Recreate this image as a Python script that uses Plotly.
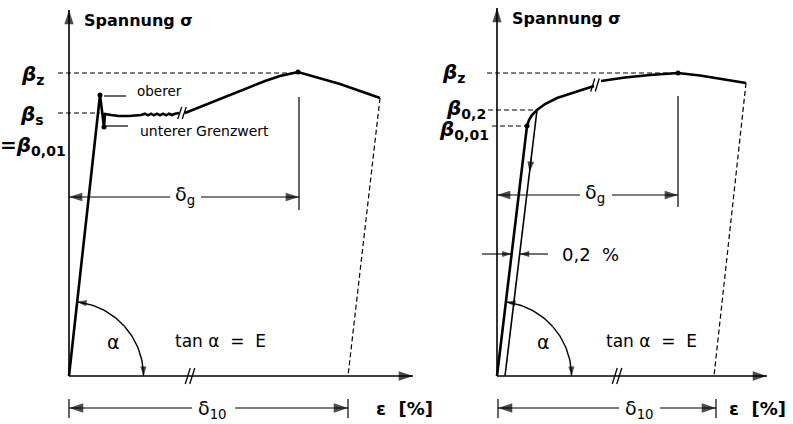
import numpy as np
import plotly.graph_objects as go

# Schematic stress-strain diagrams (Spannungs-Dehnungs-Linien).
# Strain eps and stress sig are in schematic units, one shared scale for both.

# ---------- left: steel with a distinct yield point ----------
L_yield_eps = [0, 31, 35, 36, 42, 50, 60, 72, 76, 79, 82, 85, 88, 91, 94, 97, 100, 103, 106, 110]
L_yield_sig = [0, 281, 249, 262, 261, 260, 260, 261, 262.3, 260.7, 262.3, 260.7, 262.3,
               260.7, 262.3, 260.7, 262.3, 261, 262.3, 263]
L_harden_eps = [116, 161, 196, 211, 221, 229, 271, 311]
L_harden_sig = [263, 281, 295, 300, 302.5, 304, 292, 278]
L_fracture_eps = [311, 279]
L_fracture_sig = [278, 0]
L_upper = (31, 281)          # oberer Grenzwert
L_lower = (35, 249)          # unterer Grenzwert
L_peak = (229, 304)          # beta_z
L_beta_z = 303
L_beta_s = 263
L_break_eps = 113            # break marker on the curve
L_delta_g = 230
L_delta_10 = 279

# ---------- right: steel without a distinct yield point ----------
R_curve1_eps = [0, 30, 32, 35, 40, 48, 60, 78, 97]
R_curve1_sig = [0, 250, 256, 261, 266, 272, 278, 284, 290]
R_curve2_eps = [104, 128, 153, 181, 203, 220, 249]
R_curve2_sig = [295, 298.5, 301, 303, 300.5, 298, 293]
R_offset_eps = [8, 40]       # parallel line shifted by 0.2 %
R_offset_sig = [0, 266]
R_fracture_eps = [249, 217]
R_fracture_sig = [293, 0]
R_p001 = (30, 250)           # beta_0,01
R_p02 = (40, 266)            # beta_0,2
R_peak = (181, 303)          # beta_z
R_break_eps = 98
R_delta_g = 181
R_delta_10 = 219

BLACK = "black"
FONT = "DejaVu Sans"

fig = go.Figure()


def line(xs, ys, ax, width=1.0, dash=None):
    fig.add_trace(go.Scatter(
        x=list(xs), y=list(ys), xaxis=ax, yaxis="y", mode="lines",
        line=dict(color=BLACK, width=width, dash=dash, backoff=0),
        hoverinfo="skip", showlegend=False))


def arrow(tail, tip, ax, size=12, width=1.0):
    fig.add_trace(go.Scatter(
        x=[tail[0], tip[0]], y=[tail[1], tip[1]], xaxis=ax, yaxis="y",
        mode="lines+markers",
        line=dict(color=BLACK, width=width, backoff=0),
        marker=dict(symbol="arrow", size=[0, size], angleref="previous",
                    color=BLACK, line=dict(width=0)),
        hoverinfo="skip", showlegend=False))


def arc_arrows(ax, radius, top_angle, size=10):
    # quarter arc marking the angle alpha between the elastic line and the axis
    mid = top_angle / 2
    for end in (top_angle, 0.0):
        th = np.radians(np.linspace(mid, end, 30))
        fig.add_trace(go.Scatter(
            x=radius * np.cos(th), y=radius * np.sin(th), xaxis=ax, yaxis="y",
            mode="lines+markers", line=dict(color=BLACK, width=1.4, backoff=0),
            marker=dict(symbol="arrow", size=[0] * 29 + [size], angleref="previous",
                        color=BLACK, line=dict(width=0)),
            hoverinfo="skip", showlegend=False))


def dots(pts, ax, size=5):
    fig.add_trace(go.Scatter(
        x=[p[0] for p in pts], y=[p[1] for p in pts], xaxis=ax, yaxis="y",
        mode="markers", marker=dict(color=BLACK, size=size, line=dict(width=0)),
        hoverinfo="skip", showlegend=False))


def slashes(ex, sy, ax, dx=4, dy=12, gap=4.5, width=1.3):
    # "//" break symbol centred on (ex, sy)
    for off in (-gap / 2, gap / 2):
        line([ex + off - dx / 2, ex + off + dx / 2], [sy - dy / 2, sy + dy / 2], ax, width)


def text(ax, x, y, s, size=15, anchor="center", bold=False):
    if bold:
        s = "<b>" + s + "</b>"
    fig.add_annotation(x=x, y=y, xref=ax, yref="y", text=s, showarrow=False,
                       xanchor=anchor, yanchor="middle",
                       font=dict(family=FONT, size=size, color=BLACK))


DASH = "5px,3px"

# ================= left diagram =================
ax = "x"
arrow((0, 0), (0, 366), ax, size=15, width=1.6)           # sigma axis
arrow((0, 0), (344, 0), ax, size=15, width=1.6)           # eps axis
line(L_yield_eps, L_yield_sig, ax, width=2.6)
line(L_harden_eps, L_harden_sig, ax, width=2.6)
line(L_fracture_eps, L_fracture_sig, ax, width=1.2, dash=DASH)
dots([L_upper, L_lower, L_peak], ax)
slashes(L_break_eps, 263, ax, dx=4, dy=12)
slashes(121, 0, ax, dx=5, dy=16)
line([-11, L_peak[0]], [L_beta_z, L_beta_z], ax, width=1.2, dash=DASH)
line([-11, L_upper[0]], [L_beta_s, L_beta_s], ax, width=1.2, dash=DASH)
# leaders to the yield-point notes
line([L_upper[0] + 4, L_upper[0] + 26], [L_upper[1] - 1, L_upper[1] - 1], ax, width=1.2)
line([L_lower[0] + 2, L_lower[0] + 24], [L_lower[1] + 1, L_lower[1] + 1], ax, width=1.2)
text(ax, 66, 285, "oberer", size=13.5, anchor="left")
text(ax, 69, 245, "unterer Grenzwert", size=14, anchor="left")
# delta_g
line([L_delta_g, L_delta_g], [279, 166], ax, width=1.2)
arrow((101, 179), (0, 179), ax, size=14, width=1.1)
arrow((132, 179), (L_delta_g, 179), ax, size=14, width=1.1)
text(ax, 116, 181, "δ<sub>g</sub>", size=19)
# alpha
arc_arrows(ax, 74.5, np.degrees(np.arctan2(L_upper[1], L_upper[0])))
text(ax, 44, 34, "α", size=19)
text(ax, 151, 35, "tan α  =  E", size=17)
# delta_10
line([0, 0], [-23, -42], ax, width=1.2)
line([L_delta_10, L_delta_10], [-23, -42], ax, width=1.2)
arrow((123, -32), (0, -32), ax, size=15, width=1.1)
arrow((166, -32), (L_delta_10, -32), ax, size=15, width=1.1)
text(ax, 143, -33, "δ<sub>10</sub>", size=19)
text(ax, 335, -32, "ε  [%]", size=18, bold=True)
# labels
text(ax, 13, 356, "Spannung σ", size=16, anchor="left", bold=True)
text(ax, -23, 301, "<i>β</i><sub>z</sub>", size=20, anchor="right", bold=True)
text(ax, -23, 261, "<i>β</i><sub>s</sub>", size=20, anchor="right", bold=True)
text(ax, -1, 230, "=<i>β</i><sub>0,01</sub>", size=20, anchor="right", bold=True)

# ================= right diagram =================
ax = "x2"
arrow((0, 0), (0, 368), ax, size=15, width=1.6)
arrow((0, 0), (270, 0), ax, size=15, width=1.6)
line(R_curve1_eps, R_curve1_sig, ax, width=2.6)
line(R_curve2_eps, R_curve2_sig, ax, width=2.6)
line(R_offset_eps, R_offset_sig, ax, width=1.6)
line(R_fracture_eps, R_fracture_sig, ax, width=1.2, dash=DASH)
dots([R_p001, R_peak], ax)
slashes(R_break_eps, 291, ax, dx=4, dy=13)
slashes(120, 0, ax, dx=5, dy=16)
# unloading arrow on the offset line
t1, t2 = 222 / 266, 204 / 266
arrow((R_offset_eps[0] + t1 * 32, 222), (R_offset_eps[0] + t2 * 32, 204), ax, size=11)
line([-10, R_peak[0]], [R_peak[1], R_peak[1]], ax, width=1.2, dash=DASH)
line([-9, R_p02[0]], [R_p02[1], R_p02[1]], ax, width=1.2, dash=DASH)
line([-5, R_p001[0]], [R_p001[1], R_p001[1]], ax, width=1.2, dash=DASH)
# delta_g
line([R_delta_g, R_delta_g], [280, 169], ax, width=1.2)
arrow((83, 181), (0, 181), ax, size=14, width=1.1)
arrow((115, 181), (R_delta_g, 181), ax, size=14, width=1.1)
text(ax, 98, 183, "δ<sub>g</sub>", size=19)
# 0.2 % offset dimension
arrow((-15, 122), (30 * 122 / 250, 122), ax, size=10, width=1.1)
arrow((51, 122), (8 + 122 * 32 / 266, 122), ax, size=10, width=1.1)
text(ax, 63, 122, "0,2  %", size=18, anchor="left")
# alpha
arc_arrows(ax, 74.5, np.degrees(np.arctan2(R_p001[1], R_p001[0])))
text(ax, 46, 34, "α", size=19)
text(ax, 154, 35, "tan α  =  E", size=17)
# delta_10
line([1, 1], [-23, -42], ax, width=1.2)
line([R_delta_10, R_delta_10], [-23, -42], ax, width=1.2)
arrow((122, -32), (1, -32), ax, size=15, width=1.1)
arrow((163, -32), (R_delta_10, -32), ax, size=15, width=1.1)
text(ax, 142, -33, "δ<sub>10</sub>", size=19)
text(ax, 260, -32, "ε  [%]", size=18, bold=True)
# labels
text(ax, 13, 358, "Spannung σ", size=16, anchor="left", bold=True)
text(ax, -30, 303, "<i>β</i><sub>z</sub>", size=20, anchor="right", bold=True)
text(ax, -9, 267, "<i>β</i><sub>0,2</sub>", size=20, anchor="right", bold=True)
text(ax, -6, 246, "<i>β</i><sub>0,01</sub>", size=20, anchor="right", bold=True)

hidden = dict(visible=False, showgrid=False, zeroline=False, fixedrange=True)
fig.update_layout(
    width=793, height=424,
    margin=dict(l=0, r=0, t=0, b=0),
    paper_bgcolor="white", plot_bgcolor="white",
    showlegend=False,
    xaxis=dict(range=[-69, 724], domain=[0, 1], **hidden),
    xaxis2=dict(range=[-497, 296], domain=[0, 1], overlaying="x", anchor="y", **hidden),
    yaxis=dict(range=[-48, 376], domain=[0, 1], **hidden),
)

fig.write_html("out.html")
